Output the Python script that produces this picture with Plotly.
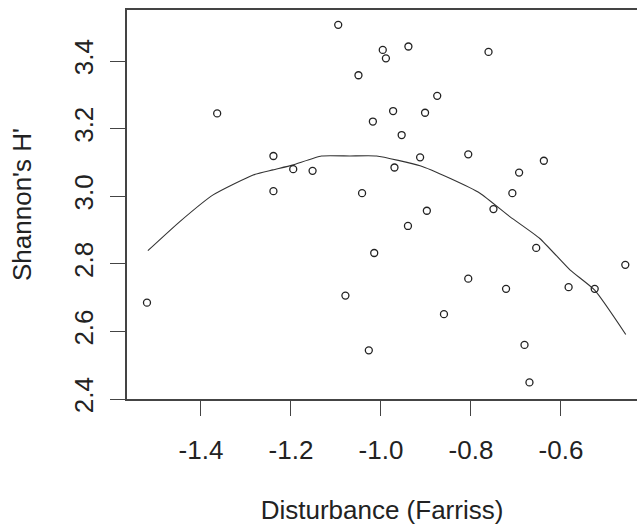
import plotly.graph_objects as go

# Data
disturbance = [-1.364, -1.239, -1.239, -1.195, -1.095, -0.996, -0.989, -0.939, -1.050,
               -0.875, -0.973, -0.902, -1.018, -0.954, -0.913, -1.152, -0.970, -1.042,
               -0.761, -0.806, -0.638, -0.693, -0.708, -1.520, -0.898, -0.940, -1.015,
               -1.079, -0.860, -1.027, -0.750, -0.655, -0.806, -0.722, -0.583, -0.525,
               -0.457, -0.681, -0.670]
shannon = [3.245, 3.119, 3.015, 3.080, 3.507, 3.433, 3.408, 3.443, 3.358,
           3.297, 3.252, 3.247, 3.221, 3.181, 3.115, 3.075, 3.085, 3.009,
           3.427, 3.124, 3.105, 3.070, 3.009, 2.685, 2.957, 2.912, 2.832,
           2.706, 2.651, 2.544, 2.962, 2.847, 2.756, 2.726, 2.731, 2.726,
           2.797, 2.560, 2.449]

# Fitted curve
curve_x = [-1.518, -1.447, -1.373, -1.284, -1.240, -1.197, -1.132, -1.069, -1.010,
           -0.913, -0.847, -0.780, -0.713, -0.647, -0.580, -0.525, -0.456]
curve_y = [2.839, 2.925, 3.004, 3.063, 3.078, 3.092, 3.119, 3.119, 3.119,
           3.090, 3.053, 3.009, 2.939, 2.875, 2.782, 2.722, 2.591]

x_tickvals = [-1.4, -1.2, -1.0, -0.8, -0.6]
x_ticktext = ["-1.4", "-1.2", "-1.0", "-0.8", "-0.6"]
y_tickvals = [2.4, 2.6, 2.8, 3.0, 3.2, 3.4]
y_ticktext = ["2.4", "2.6", "2.8", "3.0", "3.2", "3.4"]

FONT = "Liberation Sans, Arial, sans-serif"
TXT = "#222222"
AX = "#444444"
FS = 26

fig = go.Figure()
fig.add_trace(go.Scatter(
    x=curve_x, y=curve_y, mode="lines",
    line=dict(color="#333333", width=1.1, shape="spline", smoothing=0.5),
    hoverinfo="skip", showlegend=False))
fig.add_trace(go.Scatter(
    x=disturbance, y=shannon, mode="markers",
    marker=dict(symbol="circle-open", size=7, color="#222222", line=dict(width=1.3)),
    showlegend=False))

fig.update_layout(
    width=637, height=525,
    margin=dict(l=127, r=0, t=10, b=126),
    plot_bgcolor="white", paper_bgcolor="white",
    font=dict(family=FONT, size=FS, color=TXT),
    xaxis=dict(
        range=[-1.5644, -0.431], showgrid=False, zeroline=False,
        showline=True, mirror=True, linecolor=AX, linewidth=1.6,
        ticks="outside", ticklen=15, tickwidth=1.4, tickcolor=AX,
        tickvals=x_tickvals, ticktext=x_ticktext,
        tickfont=dict(size=FS, color=TXT), ticklabelstandoff=12,
        title=dict(text="Disturbance (Farriss)", font=dict(size=FS, color=TXT), standoff=38),
    ),
    yaxis=dict(
        range=[2.4, 3.551], showgrid=False, zeroline=False,
        showline=True, mirror=False, linecolor=AX, linewidth=1.6,
        ticks="outside", ticklen=15, tickwidth=1.4, tickcolor=AX,
        tickvals=y_tickvals, ticktext=y_ticktext, tickangle=-90,
        tickfont=dict(size=FS, color=TXT), ticklabelstandoff=7,
        title=dict(text="Shannon's H'", font=dict(size=FS, color=TXT), standoff=30),
    ),
)

fig.write_html("out.html")
